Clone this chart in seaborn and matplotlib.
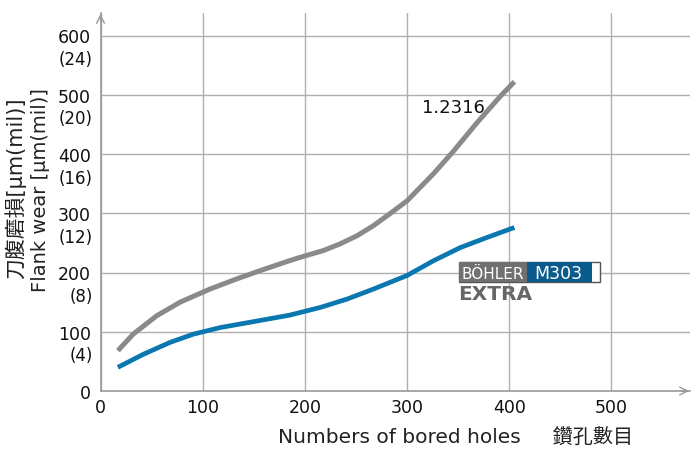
import matplotlib
matplotlib.use("Agg")
import matplotlib.pyplot as plt
import matplotlib.patches as mpatches
import seaborn as sns
import pandas as pd

# ---- data ----
grey_x = [17, 32, 55, 78, 107, 133, 156, 185, 200, 218, 234, 251, 267, 283, 300, 326, 345, 368, 391, 405]
grey_y = [68, 96, 127, 150, 172, 189, 203, 220, 228, 237, 248, 262, 279, 299, 321, 367, 404, 452, 497, 522]
blue_x = [17, 42, 68, 91, 117, 156, 185, 215, 241, 267, 300, 326, 352, 378, 405]
blue_y = [40, 62, 82, 96, 107, 119, 128, 141, 155, 172, 195, 220, 242, 259, 276]
grey_label = "1.2316"
x_ticks = [0, 100, 200, 300, 400, 500]
y_ticks = [0, 100, 200, 300, 400, 500, 600]
y_mil = ["", "(4)", "(8)", "(12)", "(16)", "(20)", "(24)"]

sns.set_theme(style="white")
plt.rcParams['font.family'] = ['DejaVu Sans', 'Noto Sans CJK TC']

W, H = 692, 452
fig = plt.figure(figsize=(W / 100, H / 100), dpi=100)
def fx(px): return px / W
def fy(py): return 1 - py / H
ax = fig.add_axes([fx(100.5), fy(392), fx(690) - fx(100.5), fy(14) - fy(392)])

df_g = pd.DataFrame({"x": grey_x, "y": grey_y})
df_b = pd.DataFrame({"x": blue_x, "y": blue_y})
sns.lineplot(data=df_g, x="x", y="y", ax=ax, color="#8a8a8a", lw=3.6,
             solid_capstyle="butt", solid_joinstyle="round", zorder=3)
sns.lineplot(data=df_b, x="x", y="y", ax=ax, color="#0a78b0", lw=3.4,
             solid_capstyle="butt", solid_joinstyle="round", zorder=3)

ax.set_xlim(0, (690 - 100.5) / 1.022)
ax.set_ylim(0, (392 - 14) / 0.5925)
ax.set_xticks(x_ticks)
ax.set_yticks(y_ticks)
ax.set_xticklabels([str(v) for v in x_ticks], fontsize=12.5, color="#111")
ax.set_yticklabels([str(v) for v in y_ticks], fontsize=12.5, color="#111")
ax.tick_params(axis="y", length=0, pad=7)
ax.tick_params(axis="x", length=0, pad=5)
ax.grid(True, color="#b0b0b0", lw=1.0)
ax.set_axisbelow(True)
for s in ["top", "right"]:
    ax.spines[s].set_visible(False)
for s in ["left", "bottom"]:
    ax.spines[s].set_color("#9a9a9a")
    ax.spines[s].set_linewidth(1.2)

for v, lab in zip(y_ticks, y_mil):
    if lab:
        ax.text(-7.5 / 589.5, v - 40, lab, transform=ax.get_yaxis_transform(),
                ha="right", va="center", fontsize=12, color="#111")

# arrows
ax.annotate("", xy=(0, 1.005), xytext=(0, 0.97), xycoords="axes fraction",
            arrowprops=dict(arrowstyle="->", color="#9a9a9a", lw=1.0,
                            mutation_scale=14), annotation_clip=False)
ax.annotate("", xy=(1.003, 0), xytext=(0.98, 0), xycoords="axes fraction",
            arrowprops=dict(arrowstyle="->", color="#9a9a9a", lw=1.0,
                            mutation_scale=14), annotation_clip=False)

ax.text(315, 480, grey_label, fontsize=13, color="#111", ha="left", va="center")

ax.set_xlabel("")
ax.set_ylabel("")
fig.text(fx(456), fy(438), "Numbers of bored holes     鑽孔數目", fontsize=14.5,
         ha="center", va="center", color="#222")
fig.text(fx(15), fy(188), "刀腹磨損[µm(mil)]", fontsize=15, rotation=90,
         ha="center", va="center", color="#222")
fig.text(fx(41), fy(190), "Flank wear [µm(mil)]", fontsize=14, rotation=90,
         ha="center", va="center", color="#222")

# logo
def rect(x0, y0, x1, y1, **kw):
    fig.add_artist(mpatches.Rectangle((fx(x0), fy(y1)), fx(x1) - fx(x0),
                                      fy(y0) - fy(y1), transform=fig.transFigure, **kw))
rect(459, 263, 600, 283, facecolor="white", edgecolor="#555", lw=1)
rect(459, 263, 527, 283, facecolor="#707070", edgecolor="none")
rect(527, 263, 592, 283, facecolor="#0b5a8c", edgecolor="none")
fig.text(fx(493), fy(274), "BÖHLER", fontsize=11, color="white", ha="center", va="center")
fig.text(fx(558), fy(274), "M303", fontsize=12.5, color="white", ha="center", va="center")
fig.text(fx(458), fy(294.5), "EXTRA", fontsize=14.5, color="#666", ha="left", va="center",
         fontweight="bold")

fig.savefig("out.png", dpi=100)
